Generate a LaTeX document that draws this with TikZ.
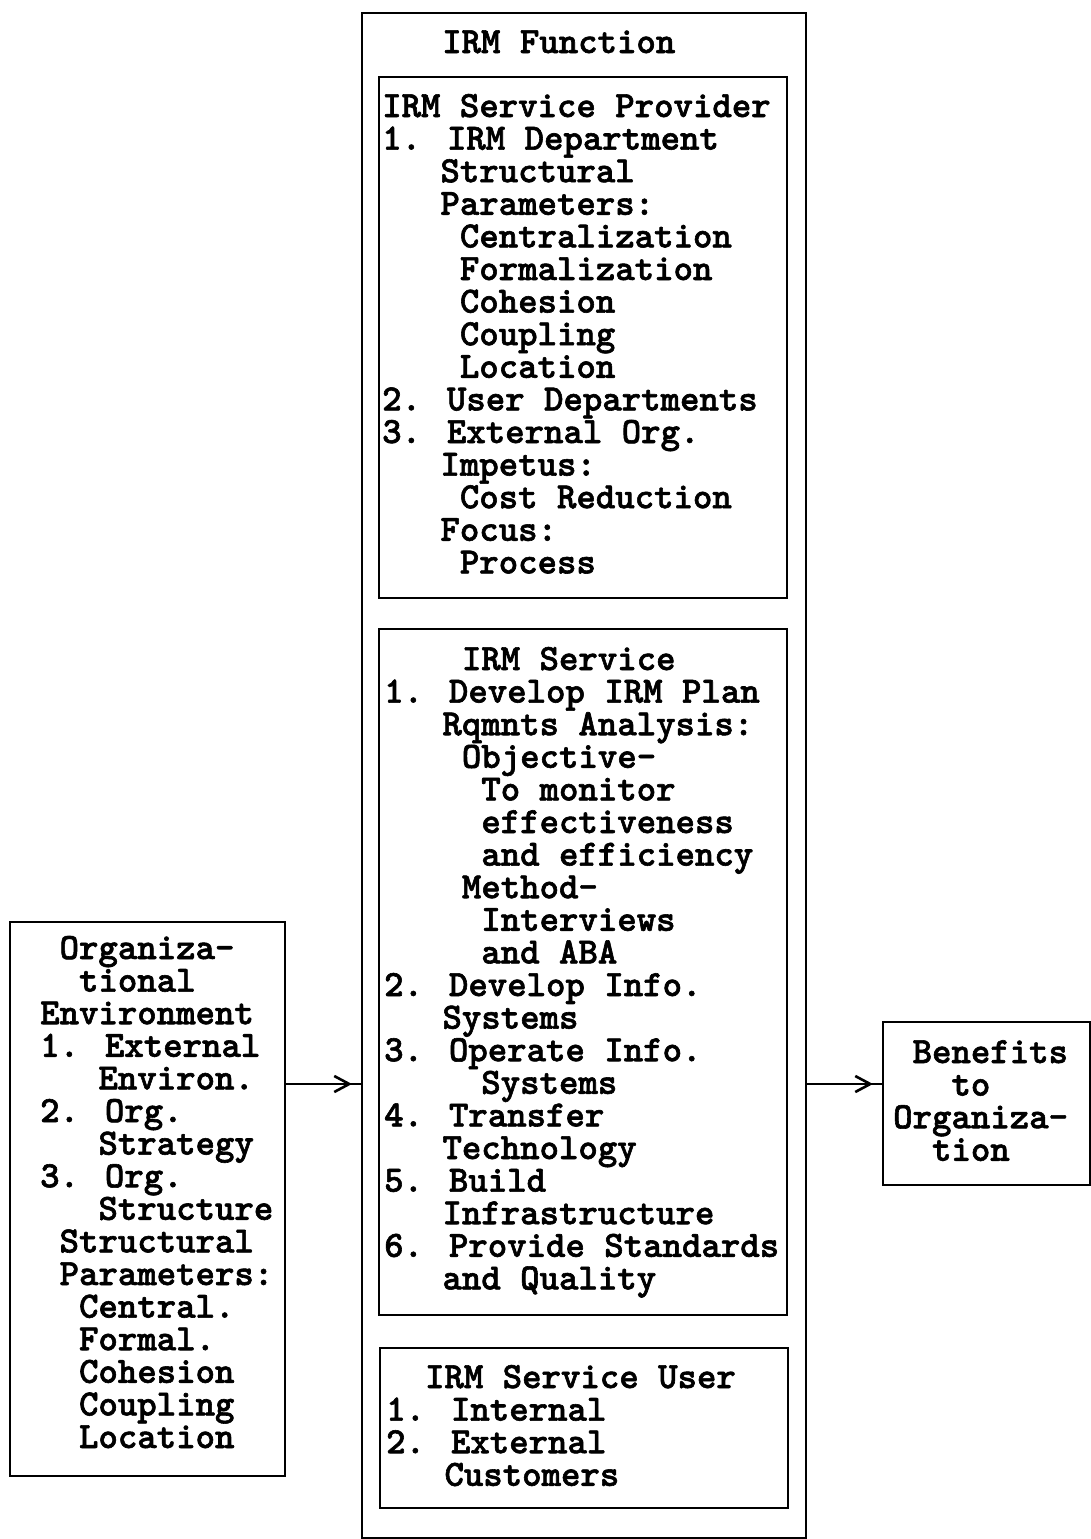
\documentclass[tikz,border=0pt]{standalone}
\usepackage{fontspec}
\usetikzlibrary{arrows.meta,decorations.markings}

% heavy typewriter face for all labels
\newfontfamily\crr[FakeBold=1.6]{lmmonolt10-bold.otf}

% one line of a block, indented by a number of character cells
\newcommand\tline[2][0]{\hbox{\hspace*{#1\fontdimen2\font}#2}}

\begin{document}
\begin{tikzpicture}[x=1pt, y=-1pt,
  box/.style={draw, line width=1.6pt, inner sep=0pt, anchor=north west},
  txt/.style={inner sep=0pt, anchor=base west, font=\crr\fontsize{37}{32.6}\selectfont},
  conn/.style={line width=1.6pt, postaction={decorate},
    decoration={markings, mark=at position -9pt with {\arrow{Straight Barb[length=15pt, width=16pt, line width=2.6pt]}}}}]

\useasboundingbox (0,0) rectangle (1091,1539);

% frames
\node[box, minimum width=444pt, minimum height=1525pt] (irmfn) at (361,12) {};
\node[box, minimum width=408pt, minimum height=521pt]  (prov)  at (378,76) {};
\node[box, minimum width=408pt, minimum height=686pt]  (serv)  at (378,628) {};
\node[box, minimum width=408pt, minimum height=160pt]  (user)  at (379,1347) {};
\node[box, minimum width=275pt, minimum height=554pt]  (env)   at (9,921) {};
\node[box, minimum width=207pt, minimum height=163pt]  (ben)   at (882,1021) {};

% texts
\node[txt] (fntitle) at (442,53) {IRM Function};

\node[txt] (provtxt) at (382,117) {\vtop{%
  \tline{IRM Service Provider}
  \tline{1. IRM Department}
  \tline[3]{Structural}
  \tline[3]{Parameters:}
  \tline[4]{Centralization}
  \tline[4]{Formalization}
  \tline[4]{Cohesion}
  \tline[4]{Coupling}
  \tline[4]{Location}
  \tline{2. User Departments}
  \tline{3. External Org.}
  \tline[3]{Impetus:}
  \tline[4]{Cost Reduction}
  \tline[3]{Focus:}
  \tline[4]{Process}}};

\node[txt] (servtxt) at (384,670) {\vtop{%
  \tline[4]{IRM Service}
  \tline{1. Develop IRM Plan}
  \tline[3]{Rqmnts Analysis:}
  \tline[4]{Objective-}
  \tline[5]{To monitor}
  \tline[5]{effectiveness}
  \tline[5]{and efficiency}
  \tline[4]{Method-}
  \tline[5]{Interviews}
  \tline[5]{and ABA}
  \tline{2. Develop Info.}
  \tline[3]{Systems}
  \tline{3. Operate Info.}
  \tline[5]{Systems}
  \tline{4. Transfer}
  \tline[3]{Technology}
  \tline{5. Build}
  \tline[3]{Infrastructure}
  \tline{6. Provide Standards}
  \tline[3]{and Quality}}};

\node[txt] (usertxt) at (386,1388) {\vtop{%
  \tline[2]{IRM Service User}
  \tline{1. Internal}
  \tline{2. External}
  \tline[3]{Customers}}};

\node[txt] (envtxt) at (40,959) {\vtop{%
  \tline[1]{Organiza-}
  \tline[2]{tional}
  \tline{Environment}
  \tline{1. External}
  \tline[3]{Environ.}
  \tline{2. Org.}
  \tline[3]{Strategy}
  \tline{3. Org.}
  \tline[3]{Structure}
  \tline[1]{Structural}
  \tline[1]{Parameters:}
  \tline[2]{Central.}
  \tline[2]{Formal.}
  \tline[2]{Cohesion}
  \tline[2]{Coupling}
  \tline[2]{Location}}};

\node[txt] (bentxt) at (893,1063) {\vtop{%
  \tline[1]{Benefits}
  \tline[3]{to}
  \tline{Organiza-}
  \tline[2]{tion}}};

% flow arrows
\coordinate (flow) at (0,1084);
\draw[conn] (env.east |- flow) -- (irmfn.west |- flow);
\draw[conn] (irmfn.east |- flow) -- (ben.west |- flow);

\end{tikzpicture}
\end{document}
